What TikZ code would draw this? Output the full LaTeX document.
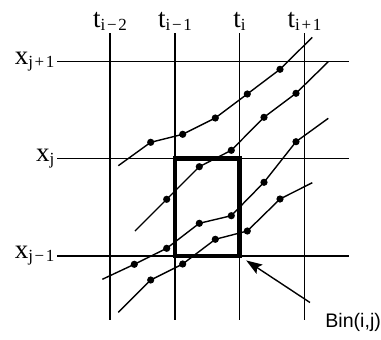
\documentclass[tikz,border=0pt]{standalone}
\usepackage{fontspec}
\setmainfont{Liberation Serif}
\newfontfamily\binfont{Liberation Sans}
\usetikzlibrary{arrows.meta}

% subscript and spaced operators for the axis labels
\newcommand\sub[1]{\raisebox{-1.5pt}{\fontsize{8.5}{9}\selectfont #1}}
\newcommand\mns{\kern0.8pt−\kern0.8pt}
\newcommand\pls{\kern0.8pt+\kern0.8pt}

\tikzset{
  gridline/.style={line width=0.7pt},
  track/.style={line width=0.7pt},
  binbox/.style={line width=2.2pt},
  lbl/.style={font=\fontsize{13.5}{15}\selectfont, inner sep=1pt},
  binlbl/.style={font=\binfont\fontsize{9.8}{12}\selectfont, inner sep=0pt},
  pointer/.style={line width=0.7pt, -{Stealth[length=8pt,width=5.5pt,inset=1.5pt]},
    shorten <=9pt, shorten >=4pt},
}

\begin{document}
\begin{tikzpicture}[x=0.5pt,y=-0.5pt]
  \useasboundingbox (0,0) rectangle (381,339);

  % Time grid (vertical)
  \foreach \x/\name/\lab in {110/ta/{i\mns 2}, 175/tb/{i\mns 1}, 239.5/tc/i, 304.5/td/{i\pls 1}}
    \draw[gridline] (\x,33) node[lbl, anchor=south] (\name) {t\sub{\lab}} -- (\x,320);

  % Space grid (horizontal)
  \foreach \y/\name/\lab in {61.7/xa/{j\pls 1}, 158.3/xb/j, 256/xc/{j\mns 1}}
    \draw[gridline] (57,\y) node[lbl, anchor=east] (\name) {x\sub{\lab}} -- (349,\y);

  % Trajectories
  \draw[track] (118.3,165.7) -- (150.7,142.3) -- (182.7,134.3) -- (215.3,118)
    -- (247.3,94) -- (280,69.3) -- (312.3,37.3);
  \draw[track] (135,231) -- (166.7,199.3) -- (199.3,166.7) -- (231.3,150.3)
    -- (264,117.3) -- (296,93.3) -- (328.3,61.7);
  \draw[track] (102.3,279.3) -- (134.3,264.3) -- (166.7,248.3) -- (199.3,223.3)
    -- (231.3,215.7) -- (264,182.3) -- (296,141.7) -- (328.3,118.3);
  \draw[track] (118.3,312.3) -- (150.7,280) -- (182.7,264) -- (215.3,239.3)
    -- (247.3,231) -- (280,199) -- (312.3,182.7);

  % Sample points
  \foreach \p in {(150.7,142.3),(182.7,134.3),(215.3,118),(247.3,94),(280,69.3),
                  (166.7,199.3),(199.3,166.7),(231.3,150.3),(264,117.3),(296,93.3),
                  (134.3,264.3),(166.7,248.3),(199.3,223.3),(231.3,215.7),(264,182.3),(296,141.7),
                  (150.7,280),(182.7,264),(215.3,239.3),(247.3,231),(280,199)}
    \fill \p circle (1.8pt);

  % Bin (i,j)
  \draw[binbox] (175,158.3) rectangle (239.5,256);
  \coordinate (binse) at (239.5,256);

  % Label and pointer
  \node[binlbl, anchor=base west] (bin) at (325,327) {Bin(i,j)};
  \draw[pointer] (bin.north west) -- (binse);
\end{tikzpicture}
\end{document}
